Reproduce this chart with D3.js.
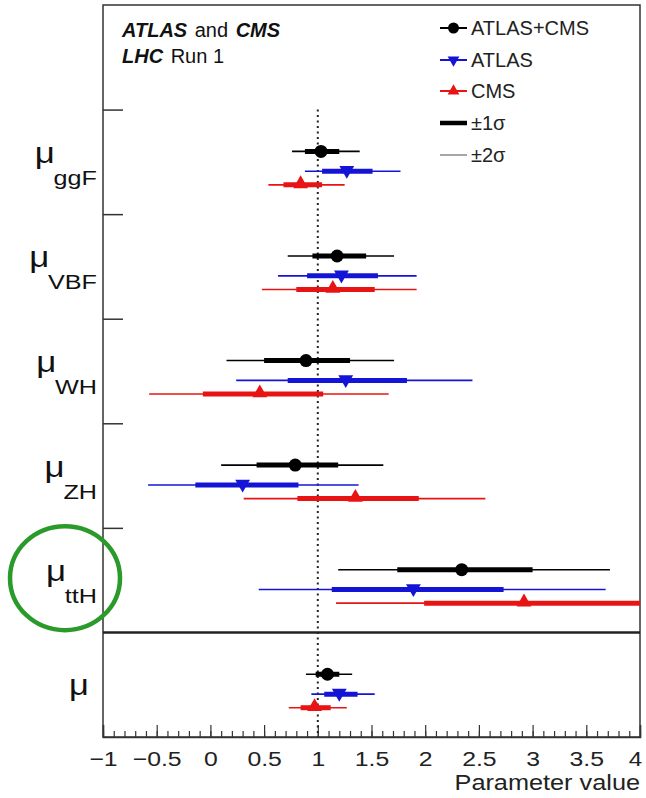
<!DOCTYPE html>
<html><head><meta charset="utf-8">
<script src="https://cdn.jsdelivr.net/npm/d3@7"></script>
<style>body{margin:0;background:#fff}svg{display:block}text{font-family:"Liberation Sans",Arial,sans-serif}</style>
</head><body>
<script>
// ---- data ----
const categories = ["ggF","VBF","WH","ZH","ttH",""];
const seriesNames = ["ATLAS+CMS","ATLAS","CMS"];
const seriesColors = ["#000000","#1414d6","#e81414"];
const central = [
  [1.03,1.18,0.89,0.79,2.34,1.09],
  [1.27,1.22,1.26,0.30,1.89,1.20],
  [0.84,1.14,0.46,1.35,2.92,0.97]
];
const lo1 = [
  [0.88,0.95,0.50,0.43,1.74,0.98],
  [1.04,0.90,0.72,-0.14,1.13,1.06],
  [0.68,0.80,-0.07,0.81,1.99,0.84]
];
const hi1 = [
  [1.20,1.45,1.30,1.19,3.00,1.20],
  [1.51,1.56,1.83,0.82,2.73,1.37],
  [1.04,1.53,1.05,1.94,4.20,1.12]
];
const lo2 = [
  [0.76,0.72,0.15,0.10,1.19,0.89],
  [0.88,0.63,0.24,-0.58,0.45,0.94],
  [0.54,0.48,-0.57,0.31,1.17,0.73]
];
const hi2 = [
  [1.39,1.71,1.71,1.61,3.72,1.32],
  [1.77,1.92,2.44,1.38,3.68,1.53],
  [1.25,1.92,1.66,2.56,5.00,1.27]
];
const xTicks = [-1,-0.5,0,0.5,1,1.5,2,2.5,3,3.5,4];

// ---- layout ----
const W=646,H=798;
const svg=d3.select("body").append("svg").attr("width",W).attr("height",H);
const x=d3.scaleLinear().domain([-1,4]).range([103,640]);
const y=d3.scaleLinear().domain([0,7]).range([737,5]);
const offs=[0.60,0.41,0.28];
const slotBase=i=>5-i; // category i occupies [5-i, 6-i]

svg.append("defs").append("clipPath").attr("id","clip")
  .append("rect").attr("x",x(-1)).attr("y",y(7)).attr("width",x(4)-x(-1)).attr("height",y(0)-y(7));

// frame
svg.append("rect").attr("x",x(-1)).attr("y",y(7)).attr("width",x(4)-x(-1)).attr("height",y(0)-y(7))
  .attr("fill","none").attr("stroke","#333").attr("stroke-width",1.5);

// x axis major / minor
const minor=d3.range(-10,41).map(d=>d/10);
svg.append("g").attr("transform",`translate(0,${y(0)})`)
  .call(d3.axisBottom(x).tickValues(minor).tickSize(-6).tickFormat(""))
  .call(g=>{g.select(".domain").remove();g.selectAll("line").attr("stroke","#333").attr("stroke-width",1.2);});
svg.append("g").attr("transform",`translate(0,${y(0)})`)
  .call(d3.axisBottom(x).tickValues(xTicks).tickSize(-12).tickPadding(14).tickFormat(d3.format("~g")))
  .call(g=>{g.select(".domain").attr("stroke","#333").attr("stroke-width",1.5);
    g.selectAll("line").attr("stroke","#333").attr("stroke-width",1.2);
    g.selectAll("text").attr("font-size",21).attr("fill","#222")
      .attr("transform",d=>d===4?"translate(-5,0) scale(1.15,1)":"scale(1.18,1)")
      .attr("font-family","Liberation Sans, Arial, sans-serif");});
svg.append("g").attr("transform",`translate(${x(4)},790) scale(1.15,1)`)
  .append("text").attr("text-anchor","end").attr("font-size",22).attr("fill","#222").text("Parameter value");

// y ticks (category boundaries)
svg.append("g").attr("transform",`translate(${x(-1)},0)`)
  .call(d3.axisRight(y).tickValues([2,3,4,5,6]).tickSize(20).tickFormat(""))
  .call(g=>{g.select(".domain").remove();g.selectAll("line").attr("stroke","#333").attr("stroke-width",1.5);});

// separator line
svg.append("line").attr("x1",x(-1)).attr("x2",x(4)).attr("y1",y(1)).attr("y2",y(1))
  .attr("stroke","#222").attr("stroke-width",2.5);

// dotted SM line
svg.append("line").attr("x1",x(1)).attr("x2",x(1)).attr("y1",y(6)).attr("y2",y(0))
  .attr("stroke","#222").attr("stroke-width",2).attr("stroke-dasharray","2,3.5");

// category labels
categories.forEach((c,i)=>{
  const yc=y(slotBase(i)+0.5);
  if(c){
    const g=svg.append("g").attr("transform",`translate(97,${yc+23}) scale(1.2,1)`);
    const sub=g.append("text").attr("text-anchor","end").attr("font-size",21).attr("fill","#111").text(c);
    const w=sub.node().getComputedTextLength();
    g.append("text").attr("x",-w+1).attr("y",-22).attr("text-anchor","end")
      .attr("font-size",29).attr("fill","#111").text("μ");
  } else {
    svg.append("g").attr("transform",`translate(89,${yc+10}) scale(1.15,1)`)
      .append("text").attr("text-anchor","end").attr("font-size",30).attr("fill","#111").text("μ");
  }
});

// green circle annotation
svg.append("ellipse").attr("cx",65).attr("cy",y(1.5)-2).attr("rx",55).attr("ry",52)
  .attr("fill","none").attr("stroke","#2a9a2a").attr("stroke-width",4.5);

// error bars
const plot=svg.append("g").attr("clip-path","url(#clip)");
const tri=d3.symbol().type(d3.symbolTriangle).size(95);
seriesNames.forEach((s,k)=>{
  const col=seriesColors[k];
  categories.forEach((c,i)=>{
    const yy=y(slotBase(i)+offs[k]);
    plot.append("line").attr("x1",x(lo2[k][i])).attr("x2",x(hi2[k][i])).attr("y1",yy).attr("y2",yy)
      .attr("stroke",col).attr("stroke-width",1.6);
    plot.append("line").attr("x1",x(lo1[k][i])).attr("x2",x(hi1[k][i])).attr("y1",yy).attr("y2",yy)
      .attr("stroke",col).attr("stroke-width",5);
    const xc=x(central[k][i]);
    if(k===0) plot.append("circle").attr("cx",xc).attr("cy",yy).attr("r",6.5).attr("fill",col);
    else plot.append("path").attr("d",tri).attr("fill",col)
      .attr("transform",`translate(${xc},${yy-1}) rotate(${k===1?180:0})`);
  });
});

// header text
const h1=svg.append("text").attr("x",122).attr("y",37).attr("font-size",20).attr("fill","#111");
h1.append("tspan").attr("font-weight","bold").attr("font-style","italic").text("ATLAS");
h1.append("tspan").attr("dx",2).text(" and ");
h1.append("tspan").attr("dx",2).attr("font-weight","bold").attr("font-style","italic").text("CMS");
const h2=svg.append("text").attr("x",122).attr("y",63).attr("font-size",20).attr("fill","#111");
h2.append("tspan").attr("font-weight","bold").attr("font-style","italic").text("LHC");
h2.append("tspan").attr("dx",2).text(" Run 1");

// legend
const legY=[28,60,91,123,155];
const lx1=440,lx2=467,ltx=471;
const triS=d3.symbol().type(d3.symbolTriangle).size(60);
seriesNames.forEach((s,k)=>{
  const col=seriesColors[k], yy=legY[k];
  svg.append("line").attr("x1",lx1).attr("x2",lx2).attr("y1",yy).attr("y2",yy).attr("stroke",col).attr("stroke-width",2);
  if(k===0) svg.append("circle").attr("cx",(lx1+lx2)/2).attr("cy",yy).attr("r",5.5).attr("fill",col);
  else svg.append("path").attr("d",triS).attr("fill",col).attr("transform",`translate(${(lx1+lx2)/2},${yy}) rotate(${k===1?180:0})`);
  svg.append("text").attr("x",ltx).attr("y",yy).attr("dy","0.35em").attr("font-size",20).attr("fill","#222").text(s);
});
svg.append("line").attr("x1",lx1).attr("x2",lx2).attr("y1",legY[3]).attr("y2",legY[3]).attr("stroke","#000").attr("stroke-width",4.5);
svg.append("text").attr("x",ltx).attr("y",legY[3]).attr("dy","0.35em").attr("font-size",20).attr("fill","#222").text("±1σ");
svg.append("line").attr("x1",lx1).attr("x2",lx2).attr("y1",legY[4]).attr("y2",legY[4]).attr("stroke","#888").attr("stroke-width",1.5);
svg.append("text").attr("x",ltx).attr("y",legY[4]).attr("dy","0.35em").attr("font-size",20).attr("fill","#222").text("±2σ");
</script>
</body></html>
